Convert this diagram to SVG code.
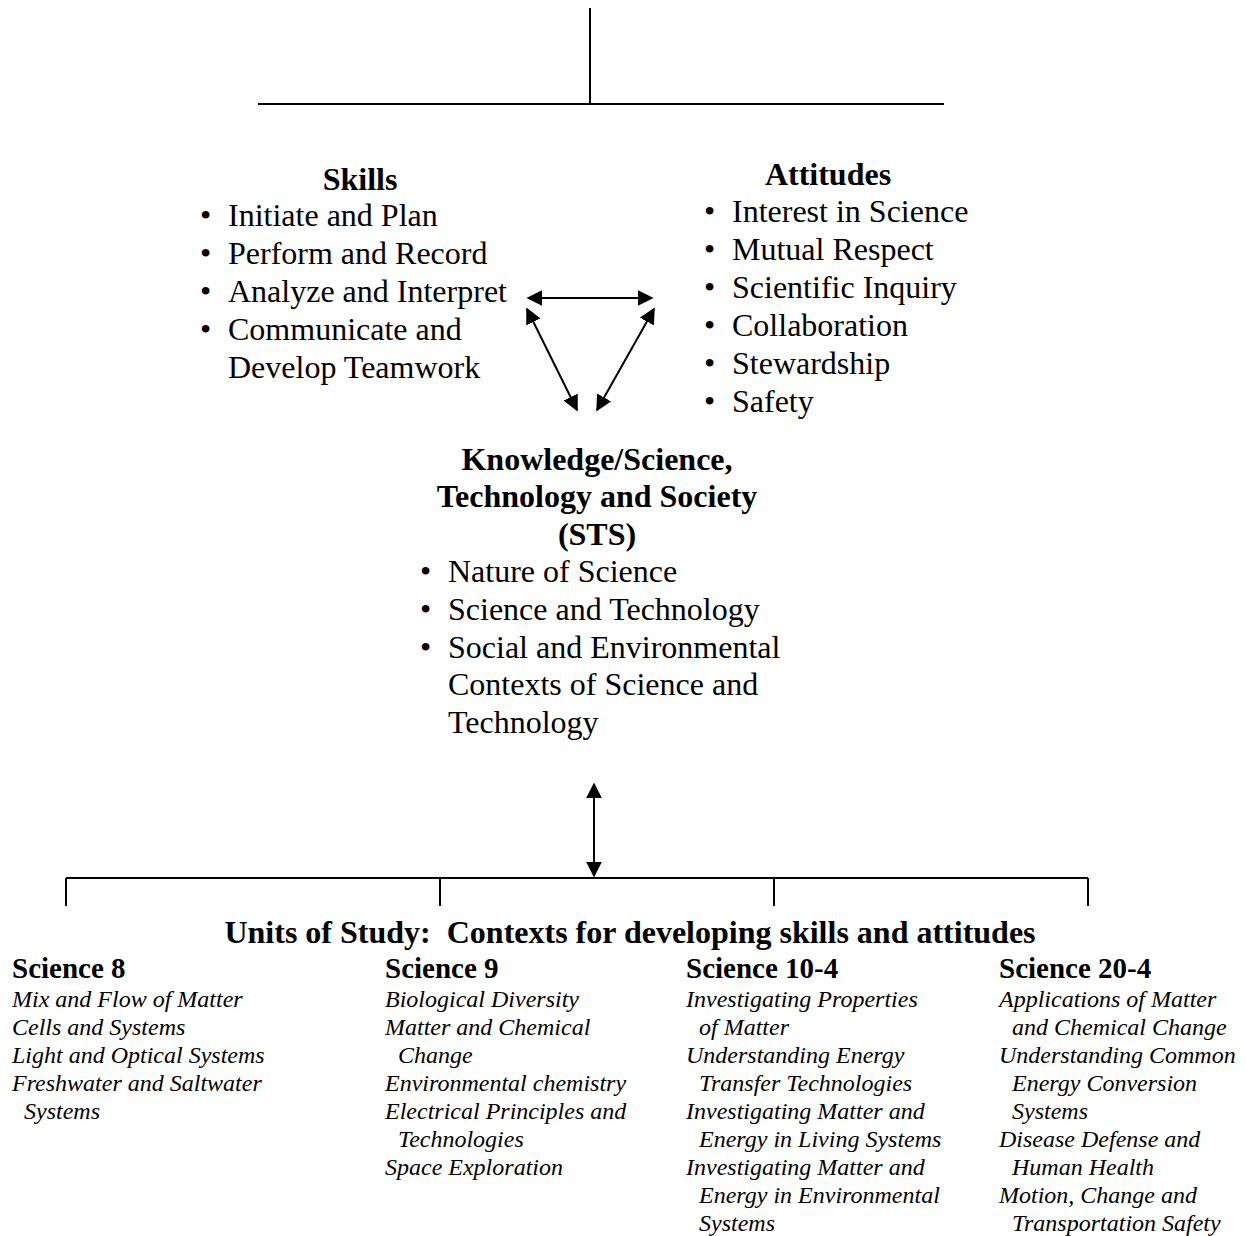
<svg xmlns="http://www.w3.org/2000/svg" width="1246" height="1236" viewBox="0 0 1246 1236">
<style>
text{font-family:"Liberation Serif","Times New Roman",serif;fill:#000}
.b{font-size:32px}
.h{font-size:32px;font-weight:bold}
.c{text-anchor:middle}
.s{font-size:29px;font-weight:bold}
.i{font-size:24px;font-style:italic}
.ln{stroke:#000;stroke-width:2;fill:none}
</style>
<defs>
<marker id="ahb" viewBox="0 0 10 10" refX="9" refY="5" markerWidth="16" markerHeight="16" markerUnits="userSpaceOnUse" orient="auto-start-reverse"><path d="M0,0 L10,5 L0,10 z" fill="#000"/></marker>
</defs>
<g id="connectors">
<line class="ln" x1="590" y1="8" x2="590" y2="104"/>
<line class="ln" x1="258" y1="104" x2="944" y2="104"/>
<line class="ln" x1="528" y1="298" x2="652" y2="298" stroke-width="3" marker-start="url(#ahb)" marker-end="url(#ahb)"/>
<line class="ln" x1="527" y1="309" x2="577" y2="410" stroke-width="3" marker-start="url(#ahb)" marker-end="url(#ahb)"/>
<line class="ln" x1="654" y1="309" x2="597" y2="410" stroke-width="3" marker-start="url(#ahb)" marker-end="url(#ahb)"/>
<line class="ln" x1="594" y1="784" x2="594" y2="876" marker-start="url(#ahb)" marker-end="url(#ahb)"/>
<line class="ln" x1="66" y1="878" x2="1088" y2="878"/>
<line class="ln" x1="66" y1="878" x2="66" y2="906"/>
<line class="ln" x1="440" y1="878" x2="440" y2="906"/>
<line class="ln" x1="774" y1="878" x2="774" y2="906"/>
<line class="ln" x1="1088" y1="878" x2="1088" y2="906"/>
</g>
<g id="skills">
<text class="h c" x="360" y="190">Skills</text>
<text class="b" x="200" y="226">•</text><text class="b" x="228" y="226">Initiate and Plan</text>
<text class="b" x="200" y="264">•</text><text class="b" x="228" y="264">Perform and Record</text>
<text class="b" x="200" y="302">•</text><text class="b" x="228" y="302">Analyze and Interpret</text>
<text class="b" x="200" y="340">•</text><text class="b" x="228" y="340">Communicate and</text>
<text class="b" x="228" y="378">Develop Teamwork</text>
</g>
<g id="attitudes">
<text class="h c" x="828" y="185">Attitudes</text>
<text class="b" x="704" y="222">•</text><text class="b" x="732" y="222">Interest in Science</text>
<text class="b" x="704" y="260">•</text><text class="b" x="732" y="260">Mutual Respect</text>
<text class="b" x="704" y="298">•</text><text class="b" x="732" y="298">Scientific Inquiry</text>
<text class="b" x="704" y="336">•</text><text class="b" x="732" y="336">Collaboration</text>
<text class="b" x="704" y="374">•</text><text class="b" x="732" y="374">Stewardship</text>
<text class="b" x="704" y="412">•</text><text class="b" x="732" y="412">Safety</text>
</g>
<g id="knowledge">
<text class="h c" x="597" y="470">Knowledge/Science,</text>
<text class="h c" x="597" y="507">Technology and Society</text>
<text class="h c" x="597" y="545">(STS)</text>
<text class="b" x="420" y="582">•</text><text class="b" x="448" y="582">Nature of Science</text>
<text class="b" x="420" y="620">•</text><text class="b" x="448" y="620">Science and Technology</text>
<text class="b" x="420" y="658">•</text><text class="b" x="448" y="658">Social and Environmental</text>
<text class="b" x="448" y="695">Contexts of Science and</text>
<text class="b" x="448" y="733">Technology</text>
</g>
<g id="units">
<text class="h c" x="630" y="943" xml:space="preserve">Units of Study:  Contexts for developing skills and attitudes</text>
</g>
<g id="science8">
<text class="s" x="12" y="978">Science 8</text>
<text class="i" x="12" y="1007">Mix and Flow of Matter</text>
<text class="i" x="12" y="1035">Cells and Systems</text>
<text class="i" x="12" y="1063">Light and Optical Systems</text>
<text class="i" x="12" y="1091">Freshwater and Saltwater</text>
<text class="i" x="24" y="1119">Systems</text>
</g>
<g id="science9">
<text class="s" x="385" y="978">Science 9</text>
<text class="i" x="385" y="1007">Biological Diversity</text>
<text class="i" x="385" y="1035">Matter and Chemical</text>
<text class="i" x="398" y="1063">Change</text>
<text class="i" x="385" y="1091">Environmental chemistry</text>
<text class="i" x="385" y="1119">Electrical Principles and</text>
<text class="i" x="398" y="1147">Technologies</text>
<text class="i" x="385" y="1175">Space Exploration</text>
</g>
<g id="science10">
<text class="s" x="686" y="978">Science 10-4</text>
<text class="i" x="686" y="1007">Investigating Properties</text>
<text class="i" x="699" y="1035">of Matter</text>
<text class="i" x="686" y="1063">Understanding Energy</text>
<text class="i" x="699" y="1091">Transfer Technologies</text>
<text class="i" x="686" y="1119">Investigating Matter and</text>
<text class="i" x="699" y="1147">Energy in Living Systems</text>
<text class="i" x="686" y="1175">Investigating Matter and</text>
<text class="i" x="699" y="1203">Energy in Environmental</text>
<text class="i" x="699" y="1231">Systems</text>
</g>
<g id="science20">
<text class="s" x="999" y="978">Science 20-4</text>
<text class="i" x="999" y="1007">Applications of Matter</text>
<text class="i" x="1012" y="1035">and Chemical Change</text>
<text class="i" x="999" y="1063">Understanding Common</text>
<text class="i" x="1012" y="1091">Energy Conversion</text>
<text class="i" x="1012" y="1119">Systems</text>
<text class="i" x="999" y="1147">Disease Defense and</text>
<text class="i" x="1012" y="1175">Human Health</text>
<text class="i" x="999" y="1203">Motion, Change and</text>
<text class="i" x="1012" y="1231">Transportation Safety</text>
</g>
</svg>
